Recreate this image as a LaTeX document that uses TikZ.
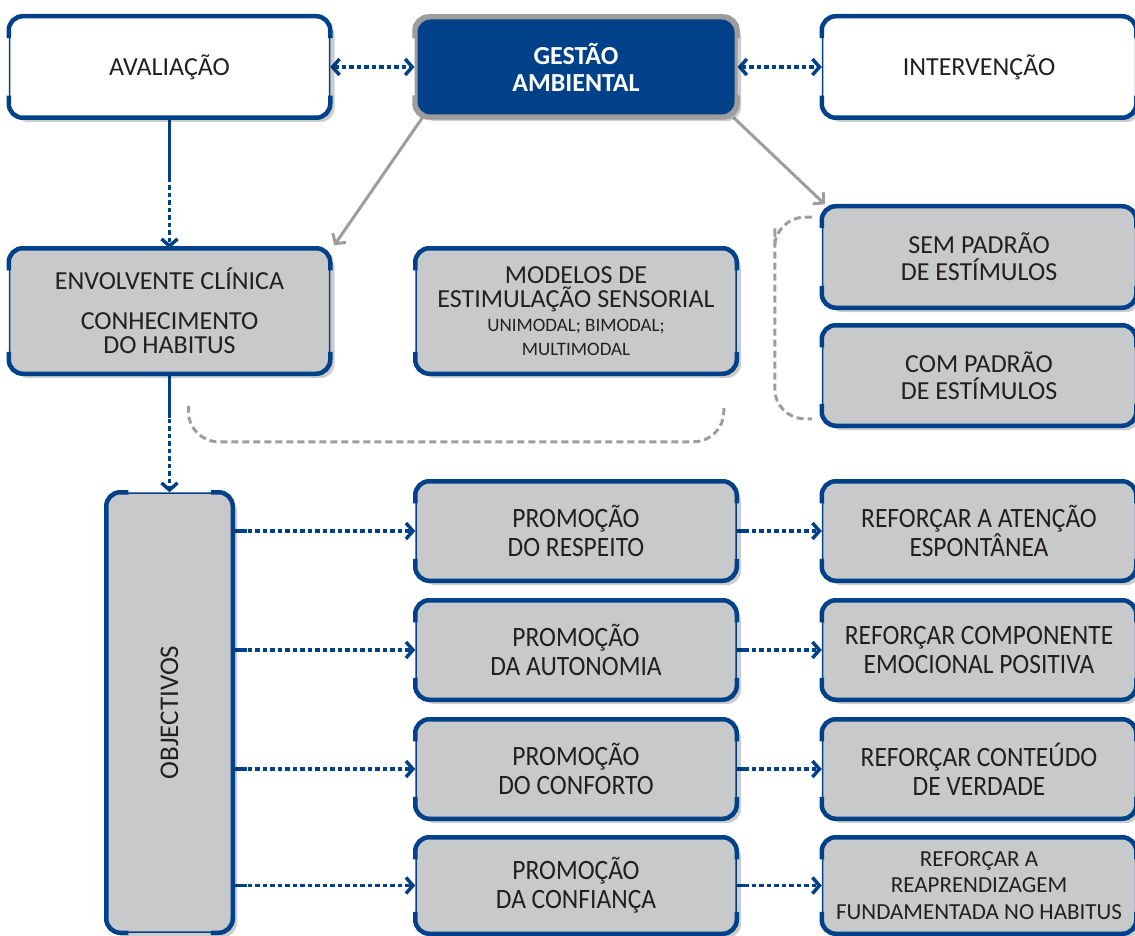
\documentclass[tikz,border=0pt]{standalone}
\usepackage{fontspec}
\setmainfont{Carlito}
\newfontfamily\narrowfont[FakeStretch=0.91]{Carlito}
\usetikzlibrary{arrows.meta, positioning, shadows, backgrounds, calc}
\definecolor{navyblue}{RGB}{0, 65, 137}
\definecolor{boxgray}{RGB}{200, 201, 203}
\definecolor{linegray}{RGB}{157, 157, 157}
\definecolor{inkblack}{RGB}{35, 31, 32}

% thick edges on top/bottom (or left/right) of a box
\newcommand{\hbands}[2][navyblue]{%
  \draw[#1, line width=4.5pt, rounded corners=14pt]
    ([yshift=-22pt]#2.north west) |- (#2.north) -| ([yshift=-22pt]#2.north east);
  \draw[#1, line width=4.5pt, rounded corners=14pt]
    ([yshift=22pt]#2.south west) |- (#2.south) -| ([yshift=22pt]#2.south east);}
\newcommand{\vbands}[2][navyblue]{%
  \draw[#1, line width=4.5pt, rounded corners=14pt]
    ([xshift=22pt]#2.north west) -| (#2.west) |- ([xshift=22pt]#2.south west);
  \draw[#1, line width=4.5pt, rounded corners=14pt]
    ([xshift=-22pt]#2.north east) -| (#2.east) |- ([xshift=-22pt]#2.south east);}

\tikzset{
  box/.style={draw=navyblue, line width=1.5pt, fill=boxgray, rounded corners=14pt,
    minimum width=320pt, minimum height=100pt, inner sep=2pt, align=center,
    text=inkblack, font=\fontsize{26}{27}\selectfont,
    drop shadow={shadow xshift=5pt, shadow yshift=-5pt, opacity=0.2, fill=black}},
  whitebox/.style={box, fill=white},
  hub/.style={box, fill=navyblue, draw=linegray, line width=3pt, text=white,
    minimum height=98pt, font=\bfseries\fontsize{26}{27}\selectfont},
  rowbox/.style={box, minimum height=98pt, font=\narrowfont\fontsize{28}{29}\selectfont},
  dotlink/.style={navyblue, line width=3.5pt, dash pattern=on 4.5pt off 3pt,
    -{Straight Barb[length=7pt, width=16pt]}},
  duallink/.style={dotlink, {Straight Barb[length=7pt, width=16pt]}-{Straight Barb[length=7pt, width=16pt]}},
  stub/.style={navyblue, line width=3.5pt},
  grayarrow/.style={linegray, line width=3pt, -{Straight Barb[length=7pt, width=16pt]}},
  bracket/.style={linegray, line width=3pt, dash pattern=on 7pt off 4pt, rounded corners=30pt}
}

\begin{document}
\begin{tikzpicture}[x=1pt, y=-1pt]
\useasboundingbox (0,0) rectangle (1135,936);

% top row
\node[whitebox] (aval) at (169.5,67) {AVALIAÇÃO};
\node[hub] (gest) at (576,67) {GESTÃO\\AMBIENTAL};
\node[whitebox, minimum width=313pt] (interv) at (979,67) {INTERVENÇÃO};

% second row
\node[box, minimum height=124pt, font=\fontsize{26}{24.5}\selectfont] (envol) at (169.5,311)
  {ENVOLVENTE CLÍNICA\\[15pt]CONHECIMENTO\\DO HABITUS};
\node[box, minimum height=124pt, font=\fontsize{26}{24}\selectfont] (model) at (576,311)
  {MODELOS DE\\ESTIMULAÇÃO SENSORIAL\\\fontsize{19}{23}\selectfont UNIMODAL; BIMODAL;\\\fontsize{19}{23}\selectfont MULTIMODAL};
\node[box, minimum width=313pt] (sem) at (979,257) {SEM PADRÃO\\DE ESTÍMULOS};
\node[box, minimum width=313pt, minimum height=99pt] (com) at (979,375.5) {COM PADRÃO\\DE ESTÍMULOS};

% objectives
\node[box, minimum width=125pt, minimum height=439pt] (obj) at (169.5,712.5)
  {\fontsize{27}{27}\selectfont\rotatebox{90}{OBJECTIVOS}};

\node[rowbox] (p1) at (576,531) {PROMOÇÃO\\DO RESPEITO};
\node[rowbox] (p2) at (576,650) {PROMOÇÃO\\DA AUTONOMIA};
\node[rowbox] (p3) at (576,769) {PROMOÇÃO\\DO CONFORTO};
\node[rowbox, minimum height=95pt] (p4) at (576,885.5) {PROMOÇÃO\\DA CONFIANÇA};

\node[rowbox, minimum width=313pt] (r1) at (979,531) {REFORÇAR A ATENÇÃO\\ESPONTÂNEA};
\node[rowbox, minimum width=313pt] (r2) at (979,650) {REFORÇAR COMPONENTE\\EMOCIONAL POSITIVA};
\node[rowbox, minimum width=313pt] (r3) at (979,769) {REFORÇAR CONTEÚDO\\DE VERDADE};
\node[box, minimum width=313pt, minimum height=95pt, font=\fontsize{23}{26.5}\selectfont] (r4) at (979,885.5)
  {REFORÇAR A\\REAPRENDIZAGEM\\FUNDAMENTADA NO HABITUS};

\foreach \n in {aval,interv,envol,model,sem,com,p1,p2,p3,p4,r1,r2,r3,r4} {\hbands{\n}}
\hbands[linegray]{gest}
\vbands{obj}

\begin{scope}[on background layer]
\draw[duallink] (aval.east) -- (gest.west);
\draw[duallink] (gest.east) -- (interv.west);

\draw[dotlink] (aval.south) -- (envol.north);
\draw[stub] (aval.south) -- ++(0,61);
\draw[dotlink] (envol.south) -- (obj.north);
\draw[stub] (envol.south) -- ++(0,44);

\draw[grayarrow] ([xshift=8pt]gest.south west) -- ([shift={(4pt,3pt)}]envol.north east);
\draw[grayarrow] ([xshift=-4pt]gest.south east) -- ([shift={(3pt,2pt)}]sem.north west);

\draw[bracket] ([shift={(19,32)}]envol.south) |- ([shift={(-13,68)}]model.south east)
  -- ([shift={(-13,32)}]model.south east);
\draw[bracket] ([shift={(-10,11)}]sem.north west) -| ([xshift=-47pt]sem.west)
  |- ([shift={(-10,-7)}]com.south west);

\foreach \i in {1,2,3,4} {
  \draw[dotlink] (obj.east |- p\i.west) -- (p\i.west);
  \draw[stub] (obj.east |- p\i.west) -- ++(14,0);
  \draw[dotlink] (p\i.east) -- (r\i.west);
  \draw[stub] (p\i.east) -- ++(10,0);
}
\end{scope}

\end{tikzpicture}
\end{document}
